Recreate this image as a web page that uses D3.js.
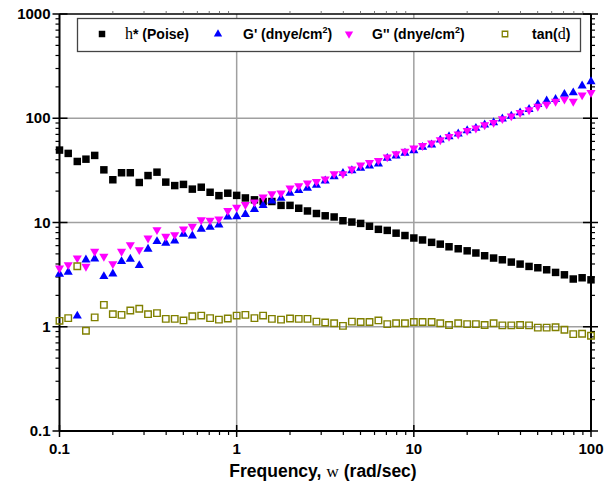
<!DOCTYPE html>
<html><head><meta charset="utf-8">
<script src="https://cdn.jsdelivr.net/npm/d3@7"></script>
<style>body{margin:0;background:#fff}svg{display:block}</style>
</head><body>
<svg id="c" width="614" height="490"></svg>
<script>
const freq = [0.1,0.112,0.126,0.141,0.158,0.178,0.2,0.224,0.251,0.282,0.316,0.355,0.398,0.447,0.501,0.562,0.631,0.708,0.794,0.891,
1,1.12,1.26,1.41,1.58,1.78,2,2.24,2.51,2.82,3.16,3.55,3.98,4.47,5.01,5.62,6.31,7.08,7.94,8.91,
10,11.2,12.6,14.1,15.8,17.8,20,22.4,25.1,28.2,31.6,35.5,39.8,44.7,50.1,56.2,63.1,70.8,79.4,89.1,100];
const eta = [49.5,46,38.5,40.5,44,32,25.7,30,30,24.2,28.2,30.4,24.4,22.6,23.2,20.9,21.8,19.5,18.1,19.1,
18.2,17.2,16.5,15.9,15.9,14.6,14.6,13.7,12.9,12.2,11.6,11.3,10.4,10.1,9.8,9.2,8.6,8.4,7.9,7.5,
7.1,6.8,6.45,6.2,5.85,5.6,5.35,5.1,4.8,4.56,4.39,4.17,3.99,3.79,3.68,3.52,3.32,3.15,2.87,2.95,2.82];
const gPrime = [3.2,3.35,1.27,4.39,4.49,3.04,3.22,4.23,4.46,3.87,5.56,6.58,6.34,6.68,7.74,7.45,8.64,9.03,9.5,11.3,
11.4,12.0,13.4,14.6,16.1,17.1,19.1,20.3,21.4,22.8,25.1,27.6,29.7,31.5,33.2,35,36.5,41.4,43.6,46.3,
49,52.8,55.6,62,66.8,70.8,76.2,80.3,86.4,91,98.7,105,113,122,136,147,152,170,176,205,225];
const gDouble = [3.65,3.93,4.56,3.79,5.27,4.72,4.02,5.27,6.11,5.47,7.08,8.51,7.34,7.62,8.64,9.16,10.6,10.5,10.8,13.0,
14.0,14.8,15.7,17.5,18.8,19.1,21.4,22.5,23.9,24.7,26.1,29.3,29.3,32.5,35.5,37.6,39.3,42.4,45.6,48,
51.7,54.6,57.7,62,66.8,70.4,76.2,80.3,86.4,91,98.7,105,113,120,130,136,145,152,145,167,176];
const tanD = [1.14,1.21,3.8,0.915,1.23,1.62,1.32,1.30,1.43,1.49,1.32,1.35,1.19,1.19,1.15,1.26,1.28,1.21,1.17,1.20,
1.28,1.30,1.21,1.28,1.19,1.17,1.20,1.19,1.19,1.12,1.10,1.08,1.02,1.12,1.11,1.11,1.15,1.06,1.08,1.08,
1.11,1.11,1.11,1.08,1.04,1.08,1.06,1.06,1.04,1.08,1.03,1.03,1.04,1.03,0.98,0.98,0.99,0.936,0.85,0.857,0.82];
const xTicks = [0.1,1,10,100];
const xTickLabels = ["0.1","1","10","100"];
const yTicks = [0.1,1,10,100,1000];
const yTickLabels = ["0.1","1","10","100","1000"];

const svg = d3.select("#c");
const L=59.5, R=591, T=14, B=431;
const x = d3.scaleLog().domain([0.1,100]).range([L,R]);
const y = d3.scaleLog().domain([0.1,1000]).range([B,T]);
const sans = "'Liberation Sans', Arial, sans-serif";
const serif = "'Liberation Serif', 'Times New Roman', serif";

// grid
const grid = svg.append("g").attr("stroke","#a0a0a0").attr("stroke-width",1.5);
xTicks.slice(1,-1).forEach(v=>grid.append("line").attr("x1",x(v)).attr("x2",x(v)).attr("y1",T).attr("y2",B));
yTicks.slice(1,-1).forEach(v=>grid.append("line").attr("y1",y(v)).attr("y2",y(v)).attr("x1",L).attr("x2",R));

// minor tick values
function minors(dom){const out=[];for(let d=dom[0];d<dom[1]-1e-9;d*=10){for(let k=2;k<=9;k++)out.push(d*k);}return out;}
const xMin = minors([0.1,100]), yMin = minors([0.1,1000]);

const ax = svg.append("g").attr("stroke","#000");
ax.append("line").attr("x1",L).attr("x2",R).attr("y1",B).attr("y2",B).attr("stroke-width",2);
ax.append("line").attr("x1",L).attr("x2",R).attr("y1",T).attr("y2",T).attr("stroke-width",1.5);
ax.append("line").attr("x1",L).attr("x2",L).attr("y1",T).attr("y2",B).attr("stroke-width",2);
ax.append("line").attr("x1",R).attr("x2",R).attr("y1",T).attr("y2",B).attr("stroke-width",2);
xTicks.forEach(v=>ax.append("line").attr("x1",x(v)).attr("x2",x(v)).attr("y1",B-6).attr("y2",B+6).attr("stroke-width",1.5));
xMin.forEach(v=>ax.append("line").attr("x1",x(v)).attr("x2",x(v)).attr("y1",B).attr("y2",B+4).attr("stroke-width",1.2));
xMin.forEach(v=>ax.append("line").attr("x1",x(v)).attr("x2",x(v)).attr("y1",T).attr("y2",T-3).attr("stroke-width",0.8).attr("stroke","#555"));
yTicks.forEach(v=>ax.append("line").attr("y1",y(v)).attr("y2",y(v)).attr("x1",L-7).attr("x2",L+8).attr("stroke-width",1.5));
yMin.forEach(v=>ax.append("line").attr("y1",y(v)).attr("y2",y(v)).attr("x1",L-4).attr("x2",L).attr("stroke-width",1.2));
yTicks.forEach(v=>ax.append("line").attr("y1",y(v)).attr("y2",y(v)).attr("x1",R-8).attr("x2",R+7).attr("stroke-width",1.5));
yMin.forEach(v=>ax.append("line").attr("y1",y(v)).attr("y2",y(v)).attr("x1",R).attr("x2",R+4).attr("stroke-width",1.2));

// tick labels
const tl = svg.append("g").attr("font-family",sans).attr("font-weight","bold").attr("font-size",15).attr("fill","#000");
xTicks.forEach((v,i)=>tl.append("text").attr("x",x(v)).attr("y",B+23).attr("text-anchor","middle").text(xTickLabels[i]));
yTicks.forEach((v,i)=>tl.append("text").attr("x",L-9).attr("y",y(v)+5).attr("text-anchor","end").text(yTickLabels[i]));

// axis title
const tt = svg.append("text").attr("x",323).attr("y",477).attr("text-anchor","middle")
  .attr("font-family",sans).attr("font-weight","bold").attr("font-size",17.5);
tt.append("tspan").text("Frequency, ");
tt.append("tspan").attr("font-family",serif).attr("font-weight","normal").text("w");
tt.append("tspan").text(" (rad/sec)");

// data
const sq = d3.symbol().type(d3.symbolSquare).size(56);
const tri = d3.symbol().type(d3.symbolTriangle).size(36);
const osq = d3.symbol().type(d3.symbolSquare).size(42);
const pts = svg.append("g");
pts.selectAll(".eta").data(freq).join("path").attr("d",sq)
  .attr("transform",(d,i)=>`translate(${x(d)},${y(eta[i])})`).attr("fill","#000");
pts.selectAll(".gp").data(freq).join("path").attr("d",tri)
  .attr("transform",(d,i)=>`translate(${x(d)},${y(gPrime[i])})`).attr("fill","#0000ff");
pts.selectAll(".gpp").data(freq).join("path").attr("d",tri)
  .attr("transform",(d,i)=>`translate(${x(d)},${y(gDouble[i])}) rotate(180)`).attr("fill","#ff00ff");
pts.selectAll(".tan").data(freq).join("path").attr("d",osq)
  .attr("transform",(d,i)=>`translate(${x(d)},${y(tanD[i])})`).attr("fill","none").attr("stroke","#808000").attr("stroke-width",1.4);

// legend
const lg = svg.append("g");
lg.append("rect").attr("x",77.5).attr("y",18.5).attr("width",503).attr("height",33).attr("fill","#fff").attr("stroke","#444").attr("stroke-width",1.3);
const ly = 34;
lg.append("path").attr("d",d3.symbol().type(d3.symbolSquare).size(42)).attr("transform",`translate(102,${ly})`).attr("fill","#000");
lg.append("path").attr("d",d3.symbol().type(d3.symbolTriangle).size(30)).attr("transform",`translate(218,${ly})`).attr("fill","#0000ff");
lg.append("path").attr("d",d3.symbol().type(d3.symbolTriangle).size(30)).attr("transform",`translate(349,${ly}) rotate(180)`).attr("fill","#ff00ff");
lg.append("path").attr("d",d3.symbol().type(d3.symbolSquare).size(30)).attr("transform",`translate(505,${ly})`).attr("fill","none").attr("stroke","#808000").attr("stroke-width",1.3);
const lt = lg.append("g").attr("font-family",sans).attr("font-weight","bold").attr("font-size",14).attr("fill","#000");
const t1 = lt.append("text").attr("x",125).attr("y",ly+5);
t1.append("tspan").attr("font-family",serif).attr("font-weight","normal").attr("font-size",16).text("h");
t1.append("tspan").text("* (Poise)");
const t2 = lt.append("text").attr("x",243).attr("y",ly+5);
t2.append("tspan").text("G' (dnye/cm");
t2.append("tspan").attr("font-size",9).attr("dy",-6).text("2");
t2.append("tspan").attr("dy",6).text(")");
const t3 = lt.append("text").attr("x",372).attr("y",ly+5);
t3.append("tspan").text("G'' (dnye/cm");
t3.append("tspan").attr("font-size",9).attr("dy",-6).text("2");
t3.append("tspan").attr("dy",6).text(")");
const t4 = lt.append("text").attr("x",532).attr("y",ly+5);
t4.append("tspan").text("tan(");
t4.append("tspan").attr("font-family",serif).attr("font-weight","normal").attr("font-size",16).text("d");
t4.append("tspan").text(")");
</script>
</body></html>
